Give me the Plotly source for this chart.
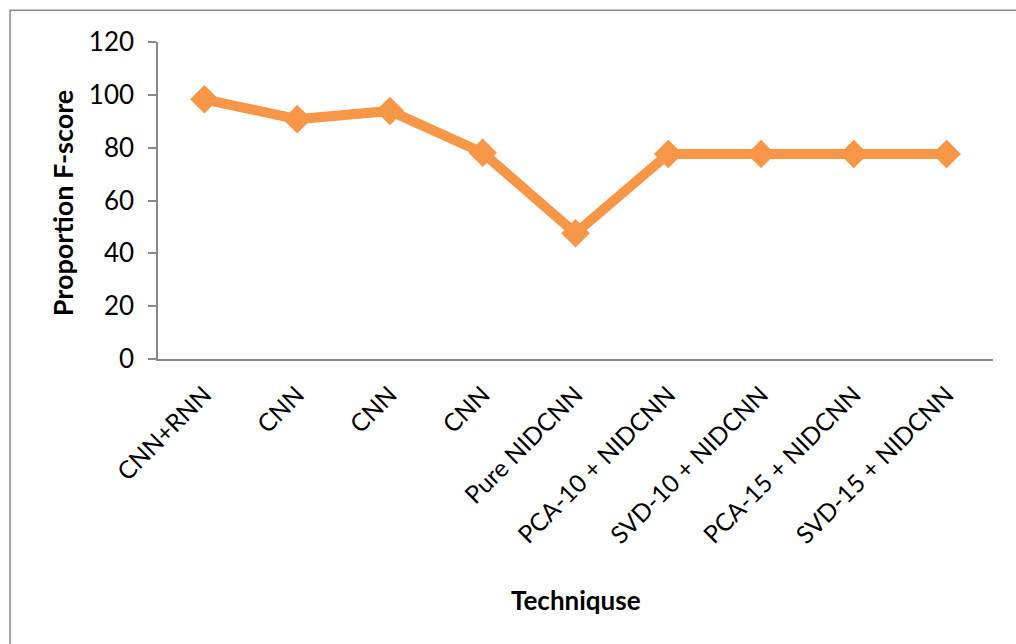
import plotly.graph_objects as go

# Technique names (some repeat, so the x axis is positional with custom tick text)
techniques = [
    "CNN+RNN", "CNN", "CNN", "CNN", "Pure NIDCNN",
    "PCA-10 + NIDCNN", "SVD-10 + NIDCNN", "PCA-15 + NIDCNN", "SVD-15 + NIDCNN",
]
f_score = [98.3, 90.8, 93.9, 78.1, 47.6, 77.6, 77.6, 77.6, 77.6]
y_ticks = [0, 20, 40, 60, 80, 100, 120]

positions = list(range(len(techniques)))
orange = "#F79646"
axis_grey = "#888888"
font_family = "Lato, 'Open Sans', sans-serif"

fig = go.Figure()
fig.add_trace(go.Scatter(
    x=positions,
    y=f_score,
    mode="lines+markers",
    line=dict(color=orange, width=10),
    marker=dict(symbol="diamond", size=22, color=orange),
    showlegend=False,
    hoverinfo="x+y",
))

fig.update_layout(
    width=1016,
    height=644,
    margin=dict(l=158, r=23, t=42, b=285),
    paper_bgcolor="white",
    plot_bgcolor="white",
    font=dict(family=font_family, color="black"),
    xaxis=dict(
        range=[-0.5, len(techniques) - 0.5],
        tickmode="array",
        tickvals=positions,
        ticktext=techniques,
        tickangle=-45,
        tickfont=dict(size=24.5, family=font_family),
        ticks="",
        ticklabelstandoff=10,
        showgrid=False,
        zeroline=False,
        showline=True,
        linecolor=axis_grey,
        linewidth=1.5,
        fixedrange=True,
    ),
    yaxis=dict(
        range=[0, 120],
        tickmode="array",
        tickvals=y_ticks,
        tickfont=dict(size=26, family=font_family),
        ticks="outside",
        ticklen=8,
        tickcolor=axis_grey,
        tickwidth=1.5,
        ticklabelstandoff=9,
        showgrid=False,
        zeroline=False,
        showline=True,
        linecolor=axis_grey,
        linewidth=1.5,
        fixedrange=True,
    ),
    annotations=[
        dict(
            text="<b>Proportion F-score</b>",
            xref="paper", yref="paper",
            x=-0.114, y=0.494,
            textangle=-90,
            showarrow=False,
            font=dict(size=27, family=font_family, color="black"),
            xanchor="center", yanchor="middle",
        ),
        dict(
            text="<b>Techniquse</b>",
            xref="paper", yref="paper",
            x=0.5, y=-0.76,
            showarrow=False,
            font=dict(size=26, family=font_family, color="black"),
            xanchor="center", yanchor="middle",
        ),
    ],
    shapes=[
        # chart frame, open past the right and bottom edges
        dict(
            type="rect", xref="paper", yref="paper",
            x0=-0.1772, y0=-1.0, x1=1.1, y1=1.1,
            line=dict(color=axis_grey, width=1.5),
            fillcolor="rgba(0,0,0,0)",
            layer="below",
        ),
    ],
)

fig.write_html("out.html")
